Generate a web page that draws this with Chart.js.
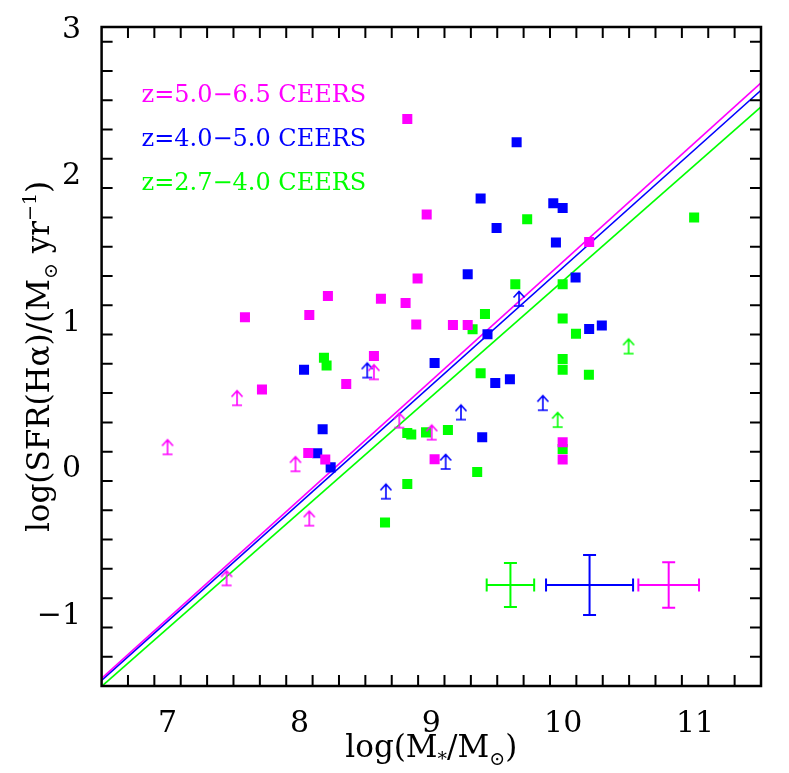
<!DOCTYPE html>
<html>
<head>
<meta charset="utf-8">
<script src="https://cdn.jsdelivr.net/npm/chart.js@4.4.0/dist/chart.umd.min.js"></script>
<style>
  html, body { margin: 0; padding: 0; background: #fff; }
  canvas { display: block; }
</style>
</head>
<body>
<canvas id="sfrChart" width="789" height="773"></canvas>
<script>
// --- data ---
const xRange = [6.5, 11.5];
const yRange = [-1.5, 3];
const xTickLabels = [7, 8, 9, 10, 11];
const yTickLabels = [-1, 0, 1, 2, 3];
const minorStep = 0.2;

const seriesNames = ['z=5.0\u22126.5 CEERS', 'z=4.0\u22125.0 CEERS', 'z=2.7\u22124.0 CEERS'];
const seriesColors = ['#ff00ff', '#0000ff', '#00ff00'];

// z=5.0-6.5 (magenta)
const magX = [8.818, 8.965, 8.896, 8.216, 8.618, 8.805, 7.587, 8.075, 8.886, 8.565,
              7.716, 8.355, 8.067, 8.196, 9.164, 9.276, 9.025, 10.197, 9.996, 9.996];
const magY = [2.372, 1.719, 1.282, 1.163, 1.145, 1.115, 1.018, 1.034, 0.968, 0.753,
              0.524, 0.562, 0.091, 0.046, 0.965, 0.965, 0.048, 1.532, 0.164, 0.046];
const magLimX = [7.0, 7.527, 7.97, 8.075, 7.448, 8.757, 8.565, 9.003];
const magLimY = [0.082, 0.417, -0.034, -0.405, -0.813, 0.264, 0.594, 0.182];

// z=4.0-5.0 (blue)
const bluX = [8.035, 8.176, 8.135, 8.237, 9.025, 9.485, 9.596, 9.386, 9.647, 9.374,
              9.925, 9.996, 9.495, 9.945, 9.276, 10.094, 9.426, 10.197, 10.293];
const bluY = [0.660, 0.253, 0.089, -0.007, 0.706, 0.569, 0.594, 0.198, 2.213, 1.829,
              1.796, 1.764, 1.628, 1.528, 1.311, 1.289, 0.902, 0.938, 0.961];
const bluLimX = [8.514, 8.656, 9.225, 9.109, 9.846, 9.665];
const bluLimY = [0.606, -0.221, 0.319, -0.018, 0.383, 1.095];

// z=2.7-4.0 (green)
const grnX = [8.186, 8.206, 8.818, 8.848, 8.96, 8.818, 8.649, 9.374, 9.126, 9.348, 9.996,
              9.996, 10.195, 9.996, 9.727, 10.993, 9.637, 9.996, 9.407, 9.313, 9.996, 10.097];
const grnY = [0.742, 0.688, 0.228, 0.217, 0.232, -0.121, -0.383, 0.635, 0.248, -0.039, 0.733,
              0.660, 0.626, 0.118, 1.687, 1.699, 1.243, 1.243, 1.040, 0.936, 1.009, 0.906];
const grnLimX = [9.958, 10.496];
const grnLimY = [0.268, 0.770];

// fitted relations (end points at the frame edges)
const lineX = [6.5, 11.5];
const magLineY = [-1.448, 2.618];
const bluLineY = [-1.462, 2.568];
const grnLineY = [-1.503, 2.454];

// typical error bars (green, blue, magenta)
const errX = [9.6, 10.2, 10.8];
const errY = [-0.81, -0.81, -0.81];
const errDX = [0.18, 0.33, 0.23];
const errDY = [0.15, 0.205, 0.155];
const errColors = ['#00ff00', '#0000ff', '#ff00ff'];

const FONT = "'DejaVu Serif', 'Liberation Serif', serif";

// --- helpers ---
const pts = (xs, ys) => xs.map((v, i) => ({ x: v, y: ys[i] }));

function arrowGlyph(color) {
    // lower-limit symbol: base bar at the centre, arrow pointing up
    const c = document.createElement('canvas');
    c.width = 14; c.height = 34;
    const g = c.getContext('2d');
    g.strokeStyle = color;
    g.lineWidth = 1.6;
    g.beginPath();
    g.moveTo(2, 17); g.lineTo(12, 17);
    g.moveTo(7, 17); g.lineTo(7, 2.5);
    g.moveTo(1.5, 8.5); g.lineTo(7, 2.5); g.lineTo(12.5, 8.5);
    g.stroke();
    return c;
}

function richWidth(ctx, parts, size) {
    let w = 0;
    parts.forEach(([t, m]) => {
        ctx.font = (m === 'n' ? size : Math.round(size * 0.62)) + 'px ' + FONT;
        w += ctx.measureText(t).width;
    });
    return w;
}

function drawRich(ctx, parts, x, y, size) {
    // centred at x, baseline at y
    let cx = x - richWidth(ctx, parts, size) / 2;
    parts.forEach(([t, m]) => {
        let dy = 0;
        if (m === 'sub') dy = size * 0.25;
        if (m === 'sup') dy = -size * 0.42;
        ctx.font = (m === 'n' ? size : Math.round(size * 0.62)) + 'px ' + FONT;
        ctx.fillText(t, cx, y + dy);
        cx += ctx.measureText(t).width;
    });
}

// frame, inward ticks, labels, legend text and error bars
const framePlugin = {
    id: 'framePlugin',
    afterDatasetsDraw(chart) {
        const { ctx, chartArea: a, scales: { x, y } } = chart;
        ctx.save();

        // error bars
        errX.forEach((v, i) => {
            const px = x.getPixelForValue(v), py = y.getPixelForValue(errY[i]);
            const x0 = x.getPixelForValue(v - errDX[i]), x1 = x.getPixelForValue(v + errDX[i]);
            const y0 = y.getPixelForValue(errY[i] - errDY[i]), y1 = y.getPixelForValue(errY[i] + errDY[i]);
            ctx.strokeStyle = errColors[i];
            ctx.lineWidth = 2;
            ctx.beginPath();
            ctx.moveTo(x0, py); ctx.lineTo(x1, py);
            ctx.moveTo(px, y0); ctx.lineTo(px, y1);
            ctx.moveTo(x0, py - 6.5); ctx.lineTo(x0, py + 6.5);
            ctx.moveTo(x1, py - 6.5); ctx.lineTo(x1, py + 6.5);
            ctx.moveTo(px - 6.5, y0); ctx.lineTo(px + 6.5, y0);
            ctx.moveTo(px - 6.5, y1); ctx.lineTo(px + 6.5, y1);
            ctx.stroke();
        });

        // ticks
        ctx.strokeStyle = '#000';
        ctx.lineWidth = 2;
        ctx.beginPath();
        const nx = Math.round((xRange[1] - xRange[0]) / minorStep);
        for (let i = 1; i < nx; i++) {
            const v = xRange[0] + i * minorStep;
            const major = Math.abs(v - Math.round(v)) < 1e-6;
            const len = major ? 22 : 11;
            const p = x.getPixelForValue(v);
            ctx.moveTo(p, a.bottom); ctx.lineTo(p, a.bottom - len);
            ctx.moveTo(p, a.top); ctx.lineTo(p, a.top + len);
        }
        const ny = Math.round((yRange[1] - yRange[0]) / minorStep);
        for (let i = 1; i < ny; i++) {
            const v = yRange[0] + i * minorStep;
            const major = Math.abs(v - Math.round(v)) < 1e-6;
            const len = major ? 22 : 11;
            const p = y.getPixelForValue(v);
            ctx.moveTo(a.left, p); ctx.lineTo(a.left + len, p);
            ctx.moveTo(a.right, p); ctx.lineTo(a.right - len, p);
        }
        ctx.stroke();

        // frame
        ctx.lineWidth = 2.5;
        ctx.strokeRect(a.left, a.top, a.right - a.left, a.bottom - a.top);

        // tick labels
        ctx.fillStyle = '#000';
        ctx.font = '30px ' + FONT;
        ctx.textBaseline = 'alphabetic';
        ctx.textAlign = 'center';
        xTickLabels.forEach(v => ctx.fillText(String(v), x.getPixelForValue(v), 732));
        ctx.textAlign = 'right';
        yTickLabels.forEach(v => {
            const t = v < 0 ? '\u2212' + Math.abs(v) : String(v);
            ctx.fillText(t, 81, y.getPixelForValue(v) + 11);
        });

        // axis titles
        ctx.textAlign = 'left';
        drawRich(ctx, [['log(M', 'n'], ['*', 'sub'], ['/M', 'n'], ['\u2299', 'sub'], [')', 'n']],
                 (a.left + a.right) / 2, 757, 31);
        ctx.save();
        ctx.translate(49, (a.top + a.bottom) / 2);
        ctx.rotate(-Math.PI / 2);
        drawRich(ctx, [['log(SFR(H\u03b1)/(M', 'n'], ['\u2299', 'sub'], [' yr', 'n'], ['\u22121', 'sup'], [')', 'n']],
                 0, 0, 31);
        ctx.restore();

        // legend text
        ctx.font = '24px ' + FONT;
        ctx.textAlign = 'left';
        const base = [101.5, 145.5, 190];
        seriesNames.forEach((s, i) => {
            ctx.fillStyle = seriesColors[i];
            ctx.fillText(s, 141.5, base[i]);
        });
        ctx.restore();
    }
};

const square = color => ({
    pointStyle: 'rect', pointRadius: 7.1, pointHoverRadius: 7.1,
    backgroundColor: color, borderColor: color, borderWidth: 0, showLine: false
});
const limit = color => ({
    pointStyle: arrowGlyph(color), pointRadius: 8, showLine: false
});
const fitLine = color => ({
    type: 'line', borderColor: color, borderWidth: 1.6, pointRadius: 0, fill: false, showLine: true
});

new Chart(document.getElementById('sfrChart'), {
    type: 'scatter',
    data: {
        datasets: [
            { data: pts(magX, magY), order: 0, ...square(seriesColors[0]) },
            { data: pts(magLimX, magLimY), order: 1, ...limit(seriesColors[0]) },
            { data: pts(bluX, bluY), order: 2, ...square(seriesColors[1]) },
            { data: pts(bluLimX, bluLimY), order: 3, ...limit(seriesColors[1]) },
            { data: pts(grnX, grnY), order: 4, ...square(seriesColors[2]) },
            { data: pts(grnLimX, grnLimY), order: 5, ...limit(seriesColors[2]) },
            { data: pts(lineX, magLineY), order: 6, ...fitLine(seriesColors[0]) },
            { data: pts(lineX, bluLineY), order: 7, ...fitLine(seriesColors[1]) },
            { data: pts(lineX, grnLineY), order: 8, ...fitLine(seriesColors[2]) }
        ]
    },
    options: {
        responsive: false,
        animation: false,
        layout: { padding: { left: 101.6, right: 28, top: 27, bottom: 87 } },
        plugins: { legend: { display: false }, tooltip: { enabled: false } },
        scales: {
            x: { type: 'linear', min: xRange[0], max: xRange[1], display: false },
            y: { type: 'linear', min: yRange[0], max: yRange[1], display: false }
        }
    },
    plugins: [framePlugin]
});
</script>
</body>
</html>
